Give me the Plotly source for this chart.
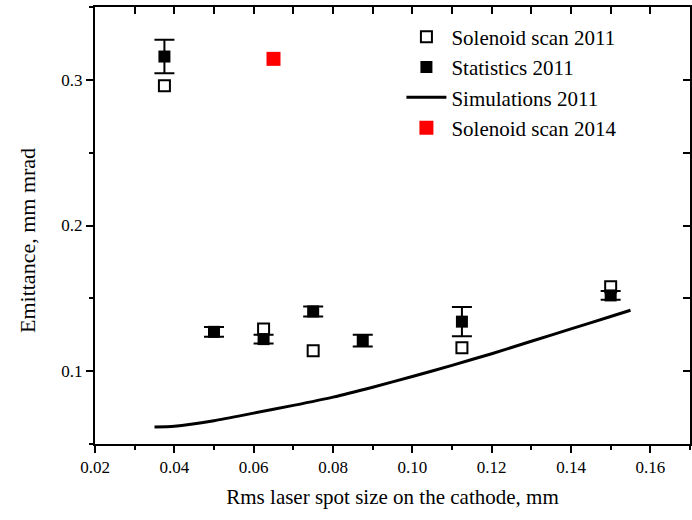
import plotly.graph_objects as go

# Solenoid scan 2011 (open squares)
sol11_x = [0.0375, 0.0625, 0.075, 0.1125, 0.15]
sol11_y = [0.296, 0.129, 0.114, 0.116, 0.158]

# Statistics 2011 (filled squares with error bars)
stat_x = [0.0375, 0.05, 0.0625, 0.075, 0.0875, 0.1125, 0.15]
stat_y = [0.316, 0.127, 0.122, 0.141, 0.121, 0.134, 0.152]
stat_err = [0.0115, 0.0033, 0.003, 0.0034, 0.004, 0.010, 0.003]

# Simulations 2011 (line)
sim_x = [0.035, 0.04, 0.05, 0.06, 0.07, 0.08, 0.09, 0.10, 0.11, 0.12, 0.13, 0.14, 0.15, 0.155]
sim_y = [0.0617, 0.0622, 0.066, 0.0712, 0.0765, 0.0822, 0.089, 0.0963, 0.104, 0.112, 0.1205, 0.129, 0.1375, 0.1418]

# Solenoid scan 2014 (red square)
sol14_x = [0.065]
sol14_y = [0.3144]

FONT = "Liberation Serif"
xr = [0.02, 0.17]
yr = [0.05, 0.35]

fig = go.Figure()
fig.add_trace(go.Scatter(
    x=sol11_x, y=sol11_y, mode="markers", name="Solenoid scan 2011",
    marker=dict(symbol="square-open", size=11, color="black", line=dict(width=2, color="black"))))
fig.add_trace(go.Scatter(
    x=stat_x, y=stat_y, mode="markers", name="Statistics 2011",
    marker=dict(symbol="square", size=12, color="black"),
    error_y=dict(type="data", array=stat_err, visible=True, color="black", thickness=2, width=10)))
fig.add_trace(go.Scatter(
    x=sim_x, y=sim_y, mode="lines", name="Simulations 2011",
    line=dict(color="black", width=3, shape="spline", smoothing=0.6)))
fig.add_trace(go.Scatter(
    x=sol14_x, y=sol14_y, mode="markers", name="Solenoid scan 2014",
    marker=dict(symbol="square", size=14, color="#ff0000")))

axis_common = dict(showline=True, linecolor="black", linewidth=2, showgrid=False, zeroline=False,
                   tickcolor="black", tickwidth=2)

fig.update_layout(
    width=692, height=520,
    margin=dict(l=95, r=2, t=7, b=76),
    paper_bgcolor="white", plot_bgcolor="white",
    font=dict(family=FONT, color="black"),
    showlegend=True,
    legend=dict(x=0.515, y=0.978, xanchor="left", yanchor="top", bgcolor="rgba(0,0,0,0)",
                font=dict(family=FONT, size=21, color="black"), tracegroupgap=0, itemwidth=40),
    xaxis=dict(range=xr, ticks="outside", ticklen=7, dtick=0.02, tick0=0.02, tickformat=".2f",
               minor=dict(ticks="outside", ticklen=4, dtick=0.01, tickcolor="black", tickwidth=2),
               tickfont=dict(family=FONT, size=17),
               title=dict(text="Rms laser spot size on the cathode, mm", font=dict(family=FONT, size=21), standoff=13),
               **axis_common),
    yaxis=dict(range=yr, ticks="outside", ticklen=7, dtick=0.1, tick0=0.0, tickformat=".1f",
               minor=dict(ticks="outside", ticklen=4, dtick=0.05, tickcolor="black", tickwidth=2),
               tickfont=dict(family=FONT, size=17),
               **axis_common),
    xaxis2=dict(range=xr, overlaying="x", side="top", ticks="inside", ticklen=7, dtick=0.01, tick0=0.02,
                showticklabels=False, **axis_common),
    yaxis2=dict(range=yr, overlaying="y", side="right", ticks="inside", ticklen=7, dtick=0.05, tick0=0.0,
                showticklabels=False, **axis_common),
)
# y-axis title, placed as in the reference (slightly below the axis centre)
fig.add_annotation(text="Emittance, mm mrad", xref="paper", yref="paper", x=0, y=0.4645,
                   xanchor="center", yanchor="middle", xshift=-68, textangle=-90, showarrow=False,
                   font=dict(family=FONT, size=22, color="black"))
# invisible trace to anchor top/right axes
fig.add_trace(go.Scatter(x=[0.1], y=[0.2], xaxis="x2", yaxis="y2", mode="markers",
                         marker=dict(opacity=0), showlegend=False, hoverinfo="skip"))

fig.write_html("out.html")
